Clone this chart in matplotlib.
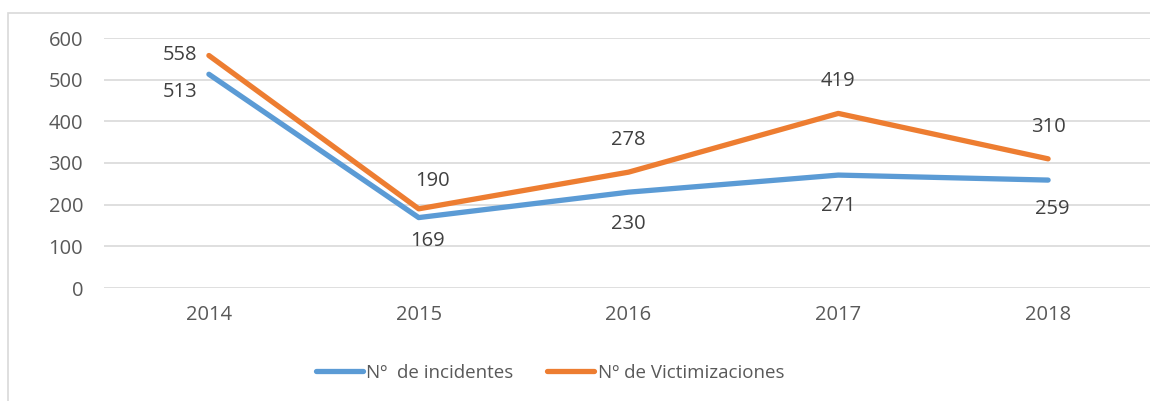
import matplotlib
matplotlib.use("Agg")
import matplotlib.pyplot as plt
from matplotlib.patches import Rectangle

years = ["2014", "2015", "2016", "2017", "2018"]
incidentes = [513, 169, 230, 271, 259]
victimizaciones = [558, 190, 278, 419, 310]
yticks = [0, 100, 200, 300, 400, 500, 600]

plt.rcParams['font.family'] = ['Open Sans', 'DejaVu Sans']

fig = plt.figure(figsize=(11.5, 4.01), dpi=100)
fig.patch.set_facecolor('white')
fig.patches.append(Rectangle((8/1150, -0.05), 1.2, (401-13)/401 + 0.05, transform=fig.transFigure,
                             fill=False, edgecolor='#D9D9D9', linewidth=1.2))

ax = fig.add_axes([104/1150, (401-288)/401, (1153-104)/1150, 250/401])
x = list(range(len(years)))
blue = '#5B9BD5'
orange = '#ED7D31'
ax.plot(x, incidentes, color=blue, linewidth=3.8, solid_capstyle='round', label='Nº  de incidentes', zorder=3)
ax.plot(x, victimizaciones, color=orange, linewidth=3.8, solid_capstyle='round', label='Nº de Victimizaciones', zorder=3)

ax.set_xlim(-0.5, 4.5)
ax.set_ylim(0, 600)
ax.set_yticks(yticks)
ax.set_xticks(x)
ax.set_xticklabels(years)
ax.grid(axis='y', color='#D9D9D9', linewidth=1.2)
ax.set_axisbelow(True)
for s in ax.spines.values():
    s.set_visible(False)
ax.tick_params(length=0, labelsize=14.5, colors='#595959')
ax.tick_params(axis='y', pad=15)
ax.tick_params(axis='x', pad=12)

lab_kw = dict(fontsize=14.5, color='#404040', ha='center', va='center')
# offsets in points (dx, dy)
v_off = [(-21, 0), (10, 20), (0, 23), (0, 23), (0, 23)]
i_off = [(-21, -13), (6, -17), (0, -23), (0, -22), (3, -21)]
for i in x:
    ax.annotate(str(victimizaciones[i]), (i, victimizaciones[i]), xytext=v_off[i],
                textcoords='offset points', **lab_kw)
    ax.annotate(str(incidentes[i]), (i, incidentes[i]), xytext=i_off[i],
                textcoords='offset points', **lab_kw)

leg = fig.legend(loc='center', bbox_to_anchor=(550/1150, 1 - 373/401), ncol=2, frameon=False,
                 fontsize=13.5, handlelength=2.5, handletextpad=0.2, columnspacing=1.8)
for t in leg.get_texts():
    t.set_color('#595959')

fig.savefig('out.png', dpi=100, facecolor='white')
